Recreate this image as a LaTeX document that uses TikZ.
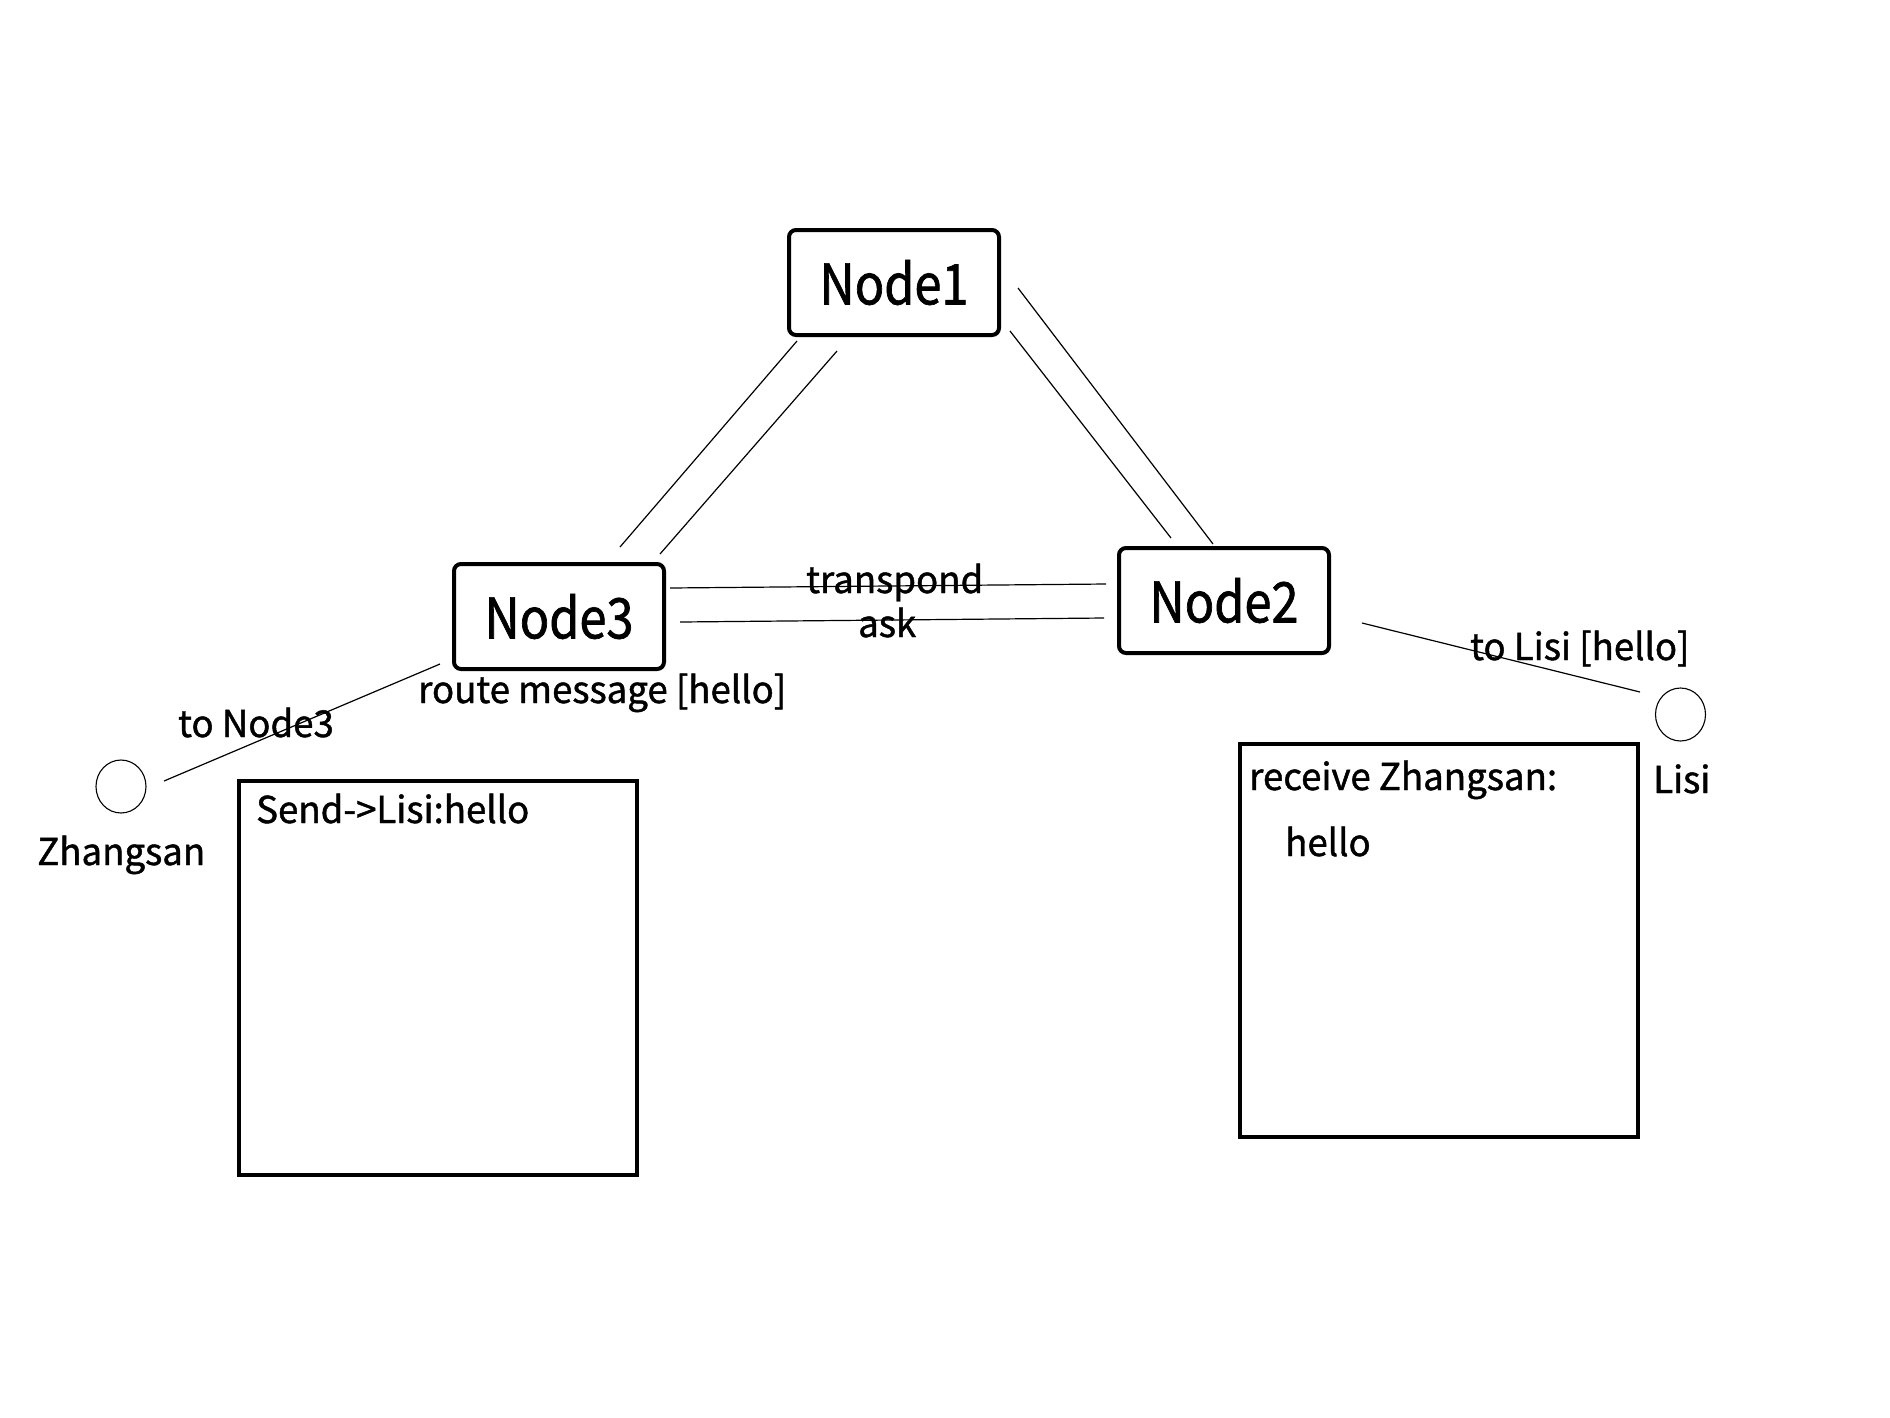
\documentclass[tikz,border=0pt]{standalone}
\usepackage{fontspec}
\setmainfont{Noto Sans CJK SC}
\newfontfamily\lblfont{Noto Sans CJK SC}[FakeStretch=0.99,FakeBold=1.2]
\newfontfamily\nodefont{Noto Sans CJK SC}[FakeStretch=0.87,FakeBold=1.2]
\usetikzlibrary{calc,shapes.geometric}
\begin{document}
\begin{tikzpicture}[x=1pt,y=-1pt,
  nodebox/.style={draw, line width=4pt, rounded corners=7pt, minimum width=210pt, minimum height=105pt, inner sep=0pt, font=\nodefont\fontsize{56}{60}\selectfont},
  thinline/.style={line width=1.2pt},
  lbl/.style={font=\lblfont\fontsize{37}{42}\selectfont, inner sep=0pt},
  msgbox/.style={draw, line width=4pt, minimum width=398pt, minimum height=394pt, inner sep=0pt},
  person/.style={draw, line width=1.1pt, ellipse, minimum width=50pt, minimum height=53pt, inner sep=0pt}]
\useasboundingbox (0,0) rectangle (1890,1417);
\node[nodebox] (n1) at (894,282.5) {Node1};
\node[nodebox] (n3) at (559,616.5) {Node3};
\node[nodebox] (n2) at (1224,600.5) {Node2};
\node[person] (zs) at (121,786.5) {};
\node[person] (ls) at (1680.5,714.5) {};
\node[msgbox] (sendbox) at (438,978) {};
\node[msgbox, minimum height=393pt] (recvbox) at (1439,940.5) {};
% connectors
\draw[thinline] ($(n1.center)+(-97,58.5)$) -- ($(n3.center)+(61,-69.5)$);
\draw[thinline] ($(n1.center)+(-57,68.5)$) -- ($(n3.center)+(101,-62.5)$);
\draw[thinline] ($(n1.center)+(124,5.5)$) -- ($(n2.center)+(-11,-56.5)$);
\draw[thinline] ($(n1.center)+(116,48.5)$) -- ($(n2.center)+(-53,-62.5)$);
\draw[thinline] ($(n3.center)+(111,-28.5)$) -- ($(n2.center)+(-118,-16.5)$);
\draw[thinline] ($(n3.center)+(121,5.5)$) -- ($(n2.center)+(-120,17.5)$);
\draw[thinline] ($(n3.center)+(-119,47.5)$) -- ($(zs.center)+(43,-5.5)$);
\draw[thinline] ($(n2.center)+(138,22.5)$) -- ($(ls.center)+(-40.5,-22.5)$);
% labels
\node[lbl, anchor=base west] (ltr) at (806,593) {transpond};
\node[lbl, anchor=base west] (lask) at (858,637) {ask};
\node[lbl, anchor=base west] (lroute) at (418,703) {route message [hello]};
\node[lbl, anchor=base west] (ltonode) at (178,737) {to Node3};
\node[lbl, anchor=base west] (lzs) at (37,865) {Zhangsan};
\node[lbl, anchor=base west] (ltolisi) at (1470,660) {to Lisi [hello]};
\node[lbl, anchor=base west] (lls) at (1653,793) {Lisi};
\node[lbl, anchor=base west] (lsend) at (256,823) {Send->Lisi:hello};
\node[lbl, anchor=base west] (lrecv) at (1249,790) {receive Zhangsan:};
\node[lbl, anchor=base west] (lhello) at (1285,856) {hello};
\end{tikzpicture}
\end{document}
